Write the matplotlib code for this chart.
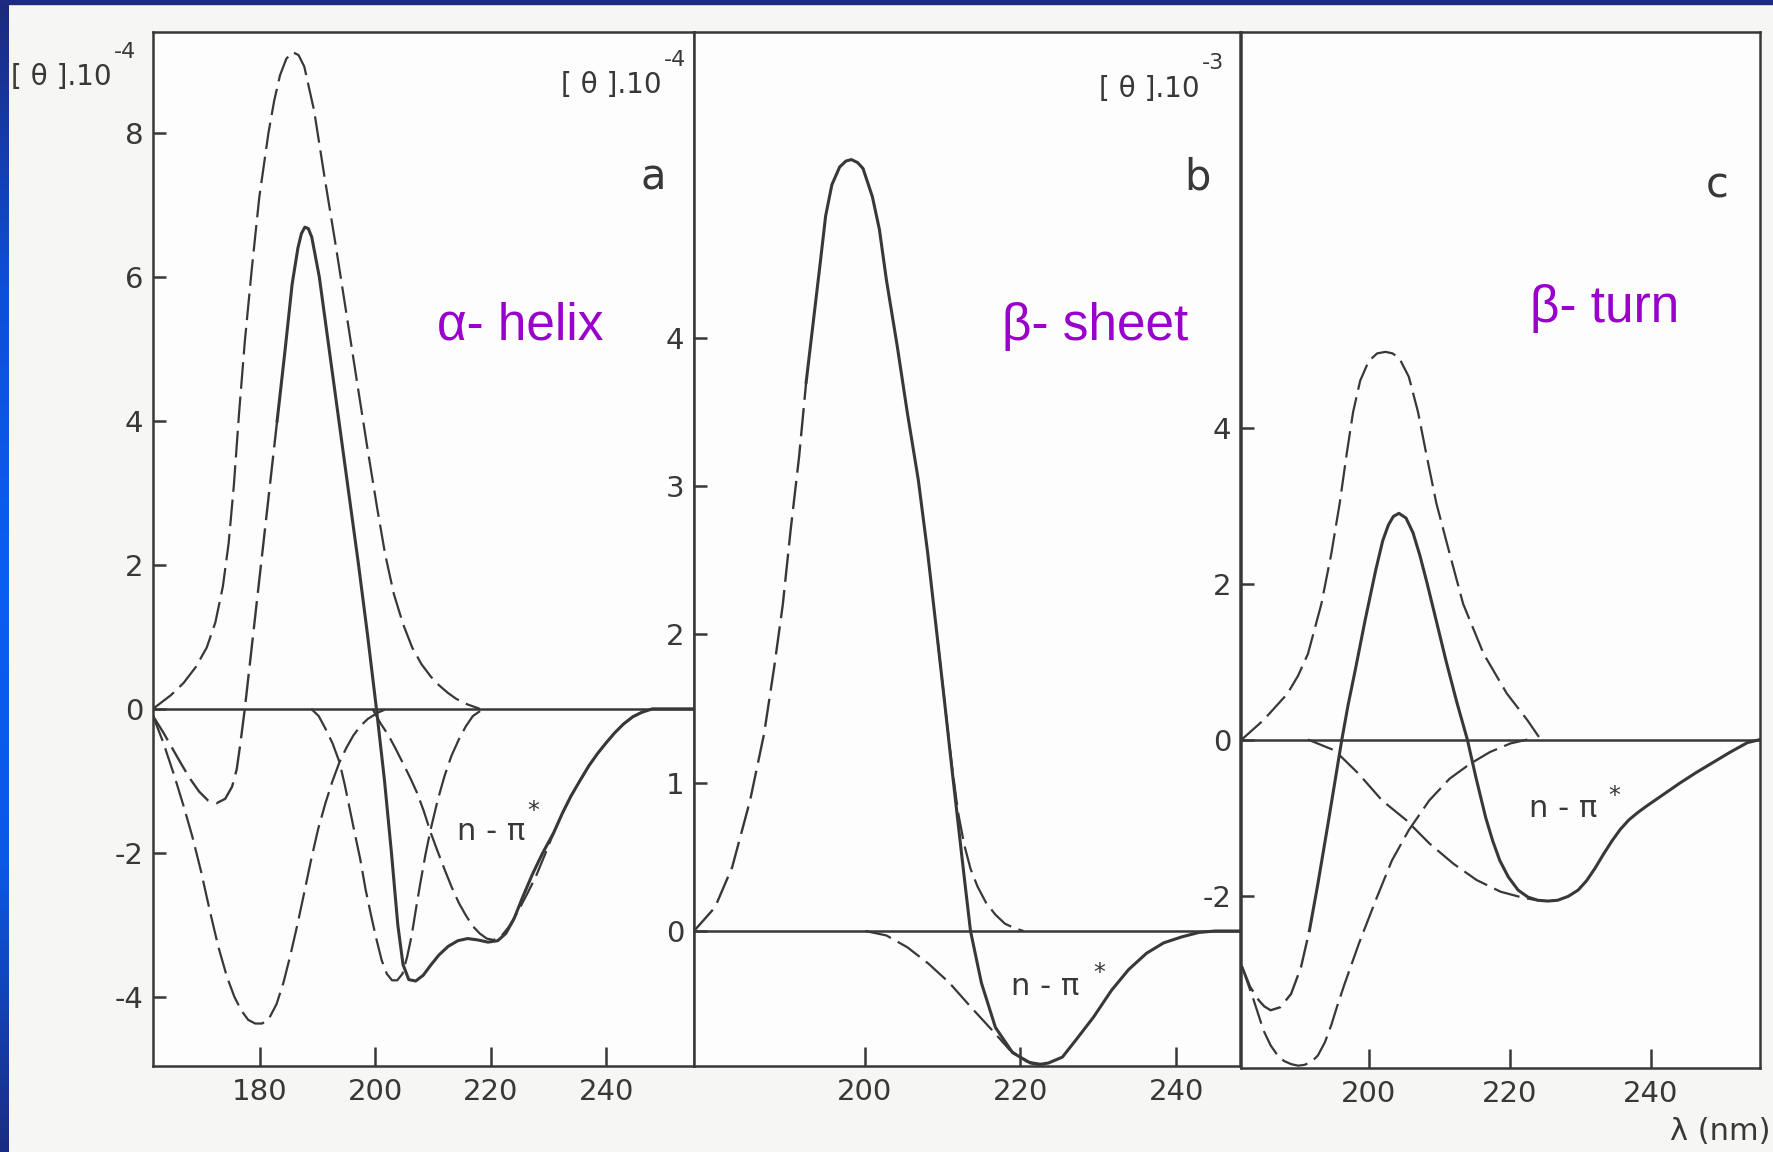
import matplotlib.pyplot as plt
import numpy as np
from matplotlib.colors import LinearSegmentedColormap
from matplotlib.patches import Rectangle

plt.rcParams['axes.unicode_minus'] = False
plt.rcParams['font.family'] = ['DejaVu Sans']

# CD spectra. x = wavelength (nm), y in units of each panel's axis.
# total = measured spectrum (dashed where extrapolated), other lists = component bands.

# a) alpha helix, [theta].10^-4
a_total_x = [161.5, 163.3, 165.0, 166.5, 168.0, 169.5, 171.0, 172.5, 174.0, 175.2, 176.0, 176.6,
             177.4, 178.8, 180.2, 181.6, 183.0, 184.4, 185.6, 186.6, 187.2, 187.8, 188.4, 189.0,
             190.3, 192.0, 193.7, 195.4, 197.1, 198.7, 200.2, 201.6, 202.8, 203.9, 204.8, 205.8,
             207.0, 208.3, 209.6, 211.0, 212.6, 214.3, 216.0, 217.8, 219.5, 221.2, 222.6, 224.0,
             225.5, 227.2, 229.0, 230.9, 232.4, 233.9, 235.5, 237.0, 238.5, 240.0, 241.5, 243.0,
             244.6, 246.1, 248.0, 255.2]
a_total_y = [-0.10, -0.33, -0.57, -0.78, -0.98, -1.15, -1.27, -1.31, -1.25, -1.08, -0.84, -0.50,
             0.00, 1.00, 2.00, 3.00, 4.00, 5.00, 5.90, 6.40, 6.60, 6.69, 6.67, 6.55,
             6.00, 5.00, 4.00, 3.00, 2.00, 1.00, 0.00, -1.00, -2.00, -3.00, -3.55, -3.76,
             -3.78, -3.70, -3.56, -3.42, -3.30, -3.22, -3.19, -3.21, -3.24, -3.22, -3.12, -2.92,
             -2.62, -2.30, -2.00, -1.72, -1.45, -1.21, -0.99, -0.79, -0.62, -0.47, -0.33, -0.21,
             -0.11, -0.05, 0.00, 0.00]
a_total_cut = 16
a_pos_x = [161.5, 164.6, 166.8, 168.9, 170.8, 172.3, 173.6, 174.6, 175.5, 176.4, 177.4, 178.6,
           179.9, 181.5, 182.5, 183.5, 184.6, 185.7, 186.7, 187.7, 189.4, 191.2, 193.1, 194.9,
           196.7, 198.5, 200.3, 201.7, 203.2, 204.8, 206.4, 208.0, 209.6, 211.0, 212.6, 214.0,
           215.7, 218.1]
a_pos_y = [0.00, 0.19, 0.36, 0.58, 0.85, 1.20, 1.70, 2.30, 3.10, 4.10, 5.10, 6.10,
           7.10, 8.00, 8.45, 8.80, 9.03, 9.12, 9.08, 8.92, 8.31, 7.39, 6.46, 5.54,
           4.61, 3.69, 2.80, 2.15, 1.60, 1.18, 0.85, 0.62, 0.45, 0.33, 0.22, 0.14,
           0.07, 0.00]
a_neg1_x = [161.5, 163.2, 165.2, 166.8, 168.3, 169.8, 171.3, 172.8, 174.3, 175.6, 176.8, 178.0,
            179.2, 180.4, 181.6, 182.9, 184.1, 185.3, 186.5, 187.7, 188.9, 190.1, 191.4, 192.6,
            193.8, 195.0, 196.2, 197.4, 198.7, 200.5, 202.0]
a_neg1_y = [-0.10, -0.45, -0.93, -1.35, -1.77, -2.25, -2.79, -3.30, -3.72, -4.00, -4.19, -4.32,
            -4.37, -4.37, -4.30, -4.10, -3.80, -3.42, -3.00, -2.55, -2.09, -1.67, -1.30, -1.00,
            -0.74, -0.54, -0.37, -0.24, -0.14, -0.05, 0.00]
a_neg2_x = [188.9, 190.2, 191.4, 192.6, 193.8, 194.7, 195.6, 196.5, 197.4, 198.3, 199.3, 200.2,
            201.1, 202.0, 202.9, 203.8, 204.7, 205.5, 206.3, 207.0, 207.8, 208.7, 209.6, 210.8,
            212.0, 213.2, 214.5, 215.7, 216.9, 218.7]
a_neg2_y = [0.00, -0.10, -0.28, -0.48, -0.74, -1.05, -1.40, -1.75, -2.09, -2.50, -2.88, -3.20,
            -3.49, -3.68, -3.77, -3.77, -3.68, -3.45, -3.15, -2.80, -2.42, -2.02, -1.67, -1.27,
            -0.93, -0.65, -0.42, -0.24, -0.10, 0.00]
a_npi_x = [199.5, 200.9, 202.3, 203.5, 204.7, 206.0, 207.2, 208.4, 209.6, 210.8, 212.0, 213.2,
           214.5, 215.7, 216.9, 218.1, 219.3, 220.5, 221.8, 223.2, 224.8, 226.3, 227.8, 229.4,
           230.9, 232.4, 233.9, 235.5, 237.0, 238.5, 240.0, 241.5, 243.0, 244.6, 246.1, 248.0]
a_npi_y = [0.00, -0.20, -0.37, -0.55, -0.74, -0.95, -1.16, -1.42, -1.72, -1.98, -2.23, -2.47,
           -2.70, -2.87, -3.02, -3.12, -3.19, -3.21, -3.16, -3.02, -2.80, -2.57, -2.33, -2.02,
           -1.72, -1.45, -1.21, -0.99, -0.79, -0.62, -0.47, -0.33, -0.21, -0.11, -0.05, 0.00]

# b) beta sheet, [theta].10^-4
b_total_x = [178.1, 180.8, 183.0, 185.3, 187.1, 188.4, 189.5, 190.5, 191.6, 192.5, 193.4, 194.3,
             195.0, 195.8, 196.8, 197.6, 198.3, 199.1, 199.8, 201.0, 201.9, 202.8, 204.2, 205.5,
             206.9, 208.1, 209.4, 210.3, 211.2, 212.0, 212.8, 213.6, 215.0, 216.8, 219.0, 221.3,
             222.4, 223.6, 225.4, 227.2, 229.4, 231.7, 233.9, 236.2, 238.4, 240.7, 242.9, 245.0,
             248.2]
b_total_y = [0.00, 0.16, 0.43, 0.88, 1.33, 1.78, 2.20, 2.70, 3.20, 3.70, 4.10, 4.50,
             4.82, 5.03, 5.15, 5.19, 5.20, 5.18, 5.14, 4.95, 4.73, 4.39, 3.94, 3.49,
             3.04, 2.55, 1.95, 1.53, 1.10, 0.73, 0.36, 0.00, -0.35, -0.65, -0.82, -0.89,
             -0.90, -0.89, -0.85, -0.73, -0.58, -0.40, -0.26, -0.15, -0.08, -0.04, -0.01, 0.00,
             0.00]
b_total_cut = 9
b_pos_x = [209.4, 210.3, 211.2, 212.0, 212.8, 213.6, 214.5, 215.6, 216.8, 218.0, 219.2, 220.4]
b_pos_y = [1.95, 1.53, 1.12, 0.80, 0.58, 0.42, 0.30, 0.19, 0.11, 0.05, 0.02, 0.00]
b_npi_x = [200.1, 202.8, 205.5, 208.2, 210.9, 213.6, 216.4, 218.6, 220.8, 223.0]
b_npi_y = [0.00, -0.03, -0.11, -0.22, -0.35, -0.51, -0.67, -0.80, -0.88, -0.90]

# c) beta turn, [theta].10^-3
c_total_x = [182.0, 183.2, 184.4, 185.2, 186.1, 187.5, 189.0, 190.4, 191.6, 192.8, 194.2, 195.2,
             196.2, 197.1, 198.1, 199.5, 201.0, 202.0, 202.8, 203.5, 204.3, 205.3, 206.3, 207.3,
             208.3, 209.6, 211.0, 212.5, 214.0, 215.2, 216.6, 217.6, 218.6, 219.8, 221.2, 222.6,
             224.0, 225.4, 226.8, 228.3, 229.7, 230.9, 232.1, 233.3, 234.5, 235.7, 236.9, 238.1,
             239.3, 241.7, 244.1, 246.5, 248.9, 251.3, 253.7, 255.5]
c_total_y = [-2.90, -3.17, -3.34, -3.42, -3.47, -3.43, -3.26, -2.92, -2.45, -1.85, -1.10, -0.55,
             0.00, 0.45, 0.89, 1.53, 2.17, 2.55, 2.75, 2.86, 2.90, 2.84, 2.65, 2.35,
             2.00, 1.52, 1.00, 0.48, 0.00, -0.48, -1.00, -1.30, -1.55, -1.76, -1.93, -2.02,
             -2.06, -2.07, -2.06, -2.01, -1.93, -1.81, -1.65, -1.47, -1.30, -1.15, -1.03, -0.94,
             -0.86, -0.71, -0.56, -0.42, -0.29, -0.16, -0.04, 0.00]
c_total_cut = 8
c_pos_x = [182.0, 185.1, 188.5, 190.0, 191.4, 193.3, 194.7, 195.9, 196.9, 197.8, 198.8, 200.0,
           201.2, 202.4, 203.4, 204.4, 205.7, 207.0, 208.2, 209.6, 211.5, 213.4, 216.3, 219.6,
           222.5, 224.4]
c_pos_y = [0.00, 0.25, 0.59, 0.82, 1.10, 1.74, 2.38, 3.03, 3.67, 4.20, 4.60, 4.85,
           4.95, 4.97, 4.95, 4.88, 4.65, 4.20, 3.65, 3.03, 2.38, 1.74, 1.10, 0.59,
           0.25, 0.00]
c_neg_x = [182.0, 183.7, 185.1, 186.1, 187.1, 188.0, 189.0, 190.0, 190.9, 191.9, 192.8, 193.8,
           194.7, 195.6, 196.6, 198.6, 201.0, 203.3, 205.7, 208.6, 211.5, 214.4, 217.2, 220.1,
           222.5]
c_neg_y = [-2.90, -3.34, -3.73, -3.92, -4.05, -4.12, -4.16, -4.18, -4.17, -4.13, -4.05, -3.88,
           -3.66, -3.40, -3.13, -2.62, -2.06, -1.55, -1.16, -0.78, -0.50, -0.31, -0.16, -0.05,
           0.00]
c_npi_x = [191.4, 195.2, 198.6, 201.9, 205.3, 208.6, 212.0, 215.3, 218.7, 222.0, 224.0]
c_npi_y = [0.00, -0.14, -0.44, -0.78, -1.03, -1.33, -1.59, -1.80, -1.95, -2.03, -2.06]

W, H = 1774, 1152
ink = '#383838'
purple = '#9900cc'
DASH = (12, 3.5)

fig = plt.figure(figsize=(W / 100, H / 100), dpi=100, facecolor='#f6f6f5')


def box(x0, y0, x1, y1):
    # pixel box measured from the top-left corner -> figure fraction
    return [x0 / W, 1 - y1 / H, (x1 - x0) / W, (y1 - y0) / H]


def ftext(x, y, s, **kw):
    kw.setdefault('color', ink)
    return fig.text(x / W, 1 - y / H, s, **kw)


# blue slide edge on the left and top
strip = fig.add_axes(box(0, 0, 9, H))
edge = LinearSegmentedColormap.from_list('edge', ['#1c2a7c', '#0d4fd8', '#0a5ef2', '#0a58e6', '#1b2c80'])
strip.imshow(np.linspace(0, 1, 256).reshape(-1, 1), aspect='auto', cmap=edge)
strip.axis('off')
fig.add_artist(Rectangle((0, 1 - 4 / H), 1, 4 / H, transform=fig.transFigure, color='#1f2b80'))


def panel(rect, xlim, ylim, xticks, yticks):
    ax = fig.add_axes(rect)
    ax.set_facecolor('#fdfdfd')
    ax.set_xlim(*xlim)
    ax.set_ylim(*ylim)
    ax.set_xticks(xticks)
    ax.set_yticks(yticks)
    ax.tick_params(axis='x', direction='in', length=14, width=1.8, colors=ink, labelsize=21, pad=9)
    ax.tick_params(axis='y', direction='in', length=9, width=1.8, colors=ink, labelsize=21, pad=7)
    for s in ax.spines.values():
        s.set_linewidth(1.8)
        s.set_color(ink)
    ax.axhline(0, color=ink, lw=1.8, zorder=1)
    return ax


def dashed(ax, x, y):
    ax.plot(x, y, color=ink, lw=1.6, dashes=DASH, zorder=2)


def total(ax, x, y, cut):
    ax.plot(x[:cut + 1], y[:cut + 1], color=ink, lw=1.7, dashes=DASH, zorder=3)
    ax.plot(x[cut:], y[cut:], color=ink, lw=2.2, zorder=3)


ax_a = panel(box(153, 32, 694, 1066), (161.5, 255.2), (-4.96, 9.40),
             [180, 200, 220, 240], [-4, -2, 0, 2, 4, 6, 8])
for bx, by in [(a_pos_x, a_pos_y), (a_neg1_x, a_neg1_y), (a_neg2_x, a_neg2_y), (a_npi_x, a_npi_y)]:
    dashed(ax_a, bx, by)
total(ax_a, a_total_x, a_total_y, a_total_cut)

ax_b = panel(box(694, 32, 1240, 1066), (178.1, 248.2), (-0.91, 6.06),
             [200, 220, 240], [0, 1, 2, 3, 4])
for bx, by in [(b_pos_x, b_pos_y), (b_npi_x, b_npi_y)]:
    dashed(ax_b, bx, by)
total(ax_b, b_total_x, b_total_y, b_total_cut)

ax_c = panel(box(1241, 32, 1760, 1068), (181.9, 255.5), (-4.21, 9.07),
             [200, 220, 240], [-2, 0, 2, 4])
for bx, by in [(c_pos_x, c_pos_y), (c_neg_x, c_neg_y), (c_npi_x, c_npi_y)]:
    dashed(ax_c, bx, by)
total(ax_c, c_total_x, c_total_y, c_total_cut)

# axis captions: "[θ].10" with the exponent set just above its right end
for x, y, sx, sy, exp in [(112, 77, 114, 52, '-4'), (662, 85, 664, 60, '-4'), (1200, 89, 1202, 63, '-3')]:
    ftext(x, y, '[ θ ].10', fontsize=20, va='center', ha='right')
    ftext(sx, sy, exp, fontsize=16, va='center', ha='left')
ftext(1771, 1132, 'λ (nm)', fontsize=22, va='center', ha='right')

# panel letters
ftext(653, 178, 'a', fontsize=30, va='center', ha='center')
ftext(1197, 178, 'b', fontsize=30, va='center', ha='center')
ftext(1717, 185, 'c', fontsize=30, va='center', ha='center')

# n - pi* labels
for x, y, sx, sy in [(457, 840, 527, 818), (1011, 995, 1093, 980), (1529, 817, 1608, 803)]:
    ftext(x, y, 'n - π', fontsize=22, va='baseline')
    ftext(sx, sy, '*', fontsize=17, va='baseline')

# structure names
sans = ['Liberation Sans', 'DejaVu Sans']
ftext(520, 340, 'α- helix', fontsize=37, color=purple, ha='center', va='baseline', family=sans)
ftext(1095, 340, 'β- sheet', fontsize=37, color=purple, ha='center', va='baseline', family=sans)
ftext(1605, 322, 'β- turn', fontsize=37, color=purple, ha='center', va='baseline', family=sans)

fig.savefig('out.png', dpi=100, facecolor=fig.get_facecolor())
